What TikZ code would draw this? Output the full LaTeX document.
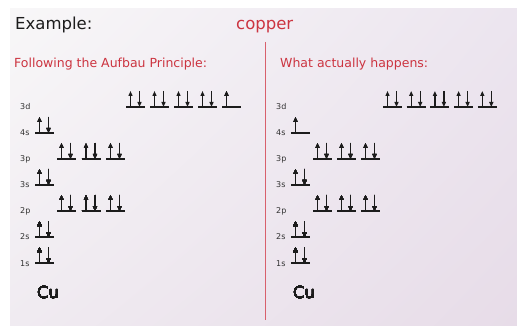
\documentclass[tikz,border=0pt]{standalone}
\usepackage{fontspec}
\setmainfont{DejaVu Sans}
\usetikzlibrary{arrows.meta,shadings}
\definecolor{slidered}{RGB}{204,52,64}
\definecolor{divred}{RGB}{216,96,108}
\definecolor{ink}{RGB}{28,28,28}
\definecolor{labelgray}{RGB}{50,50,50}
\definecolor{bgUL}{RGB}{248,247,248}
\definecolor{bgUR}{RGB}{236,229,239}
\definecolor{bgLL}{RGB}{240,235,241}
\definecolor{bgLR}{RGB}{231,220,232}

% one orbital: #1 = x, #2 = y of its base line, #3 = number of electrons
\newcommand\orb[3]{%
  \draw[orbline] (#1,#2) -- ++(19,0);
  \draw[spin] (#1+4.5,#2) -- ++(0,-16);
  \ifnum#3>1 \draw[spin] (#1+13.5,#2-16) -- ++(0,16);\fi
}

\begin{document}
\begin{tikzpicture}[x=1pt,y=-1pt,
  orbline/.style={draw=ink,line width=1.2pt},
  spin/.style={draw=ink,line width=1.3pt,-{Triangle[width=4pt,length=5pt]}},
  sublevel/.style={text=labelgray,font=\fontsize{8}{9}\selectfont,inner sep=0pt,anchor=base west},
  heading/.style={text=slidered,font=\fontsize{12.5}{15}\selectfont,inner sep=0pt,anchor=base west},
  element/.style={text=ink,font=\fontsize{16.5}{20}\selectfont,inner sep=0pt,anchor=base west}]
\useasboundingbox (0,0) rectangle (517,326);
\fill[white] (0,0) rectangle (517,326);
\shade[upper left=bgUL,upper right=bgUR,lower left=bgLL,lower right=bgLR]
  (10,9) rectangle (517,326);

% title line
\node[element] (title) at (15,30) {Example:};
\node[element,text=slidered] (elem) at (236,30) {copper};

% divider between the two columns
\coordinate (divtop) at (265.5,42);
\coordinate (divbot) at (265.5,320);
\draw[divred,line width=1.3pt] (divtop) -- (divbot);

\node[heading] (hleft) at (14,68) {Following the Aufbau Principle:};
\node[heading] (hright) at (280,68) {What actually happens:};

% sublevel labels, both columns
\foreach \lab/\yy in {3d/107,4s/133,3p/159,3s/185,2p/211,2s/237,1s/263}{
  \node[sublevel] (L\lab) at (20,\yy+3) {\lab};
  \node[sublevel] (R\lab) at (276,\yy+3) {\lab};
}

% left column: Aufbau filling
\foreach \k in {0,...,3} \orb{126+24*\k}{107}{2}
\orb{222}{107}{1}
\orb{35}{133}{2}
\foreach \k in {0,...,2} \orb{57+24.5*\k}{159}{2}
\orb{35}{185}{2}
\foreach \k in {0,...,2} \orb{57+24.5*\k}{211}{2}
\orb{35}{237}{2}
\orb{35}{263}{2}
\node[element] (cuL) at (37,298) {Cu};

% right column: actual configuration
\foreach \k in {0,...,4} \orb{383+23.7*\k}{107}{2}
\orb{291}{133}{1}
\foreach \k in {0,...,2} \orb{313+24*\k}{159}{2}
\orb{291}{185}{2}
\foreach \k in {0,...,2} \orb{313+24*\k}{211}{2}
\orb{291}{237}{2}
\orb{291}{263}{2}
\node[element] (cuR) at (293,298) {Cu};
\end{tikzpicture}
\end{document}
